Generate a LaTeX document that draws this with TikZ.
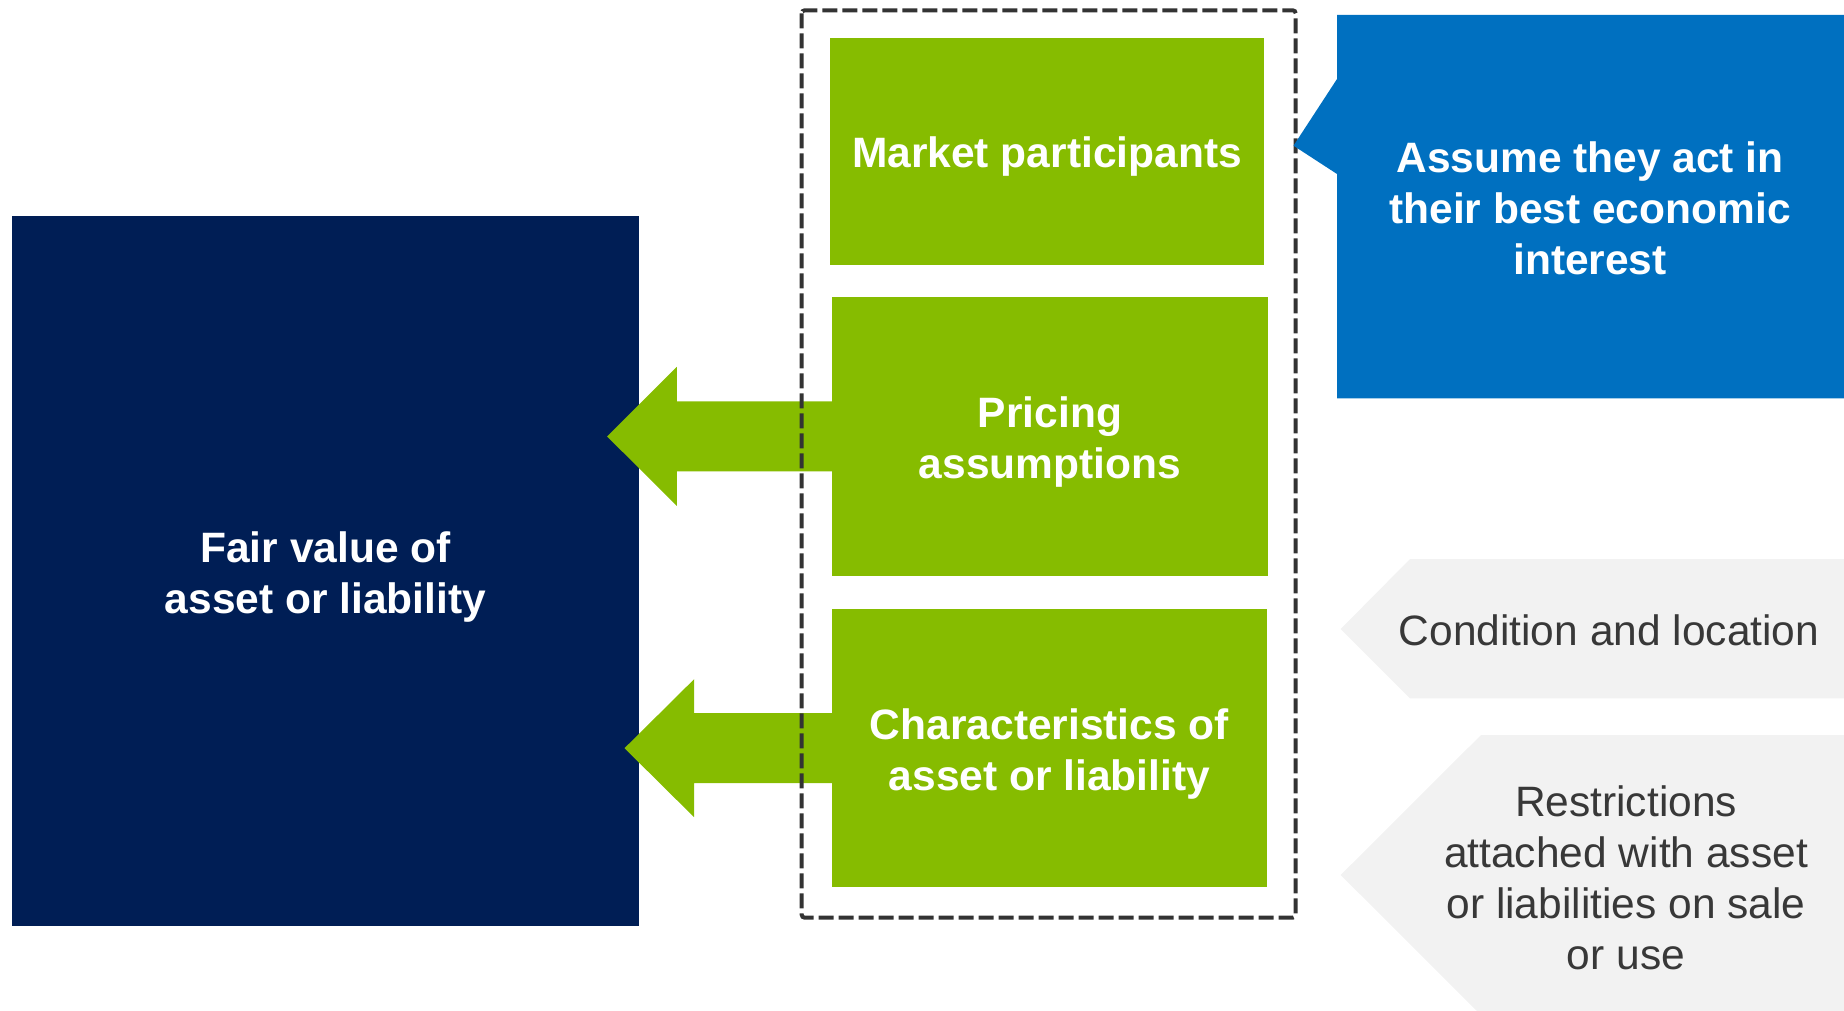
\documentclass[tikz,border=0pt]{standalone}
\usepackage{fontspec}
\setmainfont{Liberation Sans}
\usetikzlibrary{calc}
\definecolor{dgreen}{HTML}{86BC00}
\definecolor{navy}{HTML}{001E55}
\definecolor{dblue}{HTML}{0070C0}
\definecolor{lgray}{HTML}{F2F2F2}
\definecolor{tgray}{HTML}{383838}
\definecolor{dashc}{HTML}{333333}
\tikzset{
  gbox/.style={fill=dgreen, draw=none, inner sep=0pt},
  nbox/.style={fill=navy, draw=none, inner sep=0pt},
  wtext/.style={text=white, align=center, inner sep=0pt,
    font=\bfseries\fontsize{42.5}{51}\selectfont},
  gtext/.style={text=tgray, align=center, inner sep=0pt,
    font=\fontsize{42.5}{51}\selectfont},
  blockarrow/.style={fill=dgreen, draw=none},
  dashbox/.style={draw=dashc, line width=4pt, dash pattern=on 15pt off 5pt, rounded corners=3pt}
}
\begin{document}
\begin{tikzpicture}[x=1pt,y=-1pt]
\useasboundingbox (0,0) rectangle (1844,1011);
\clip (0,0) rectangle (1844,1011);
% left navy box
\node[nbox, minimum width=627pt, minimum height=710pt] (fv) at (325.5,571) {};
\node[wtext] (fvt) at ($(fv.center)+(0,6)$) {Fair value of\\asset or liability};
% green boxes
\node[gbox, minimum width=434pt, minimum height=227pt] (mp) at (1047,151.5) {};
\node[wtext] (mpt) at ($(mp.center)+(0,5)$) {Market participants};
\node[gbox, minimum width=436pt, minimum height=279pt] (pa) at (1050,436.4) {};
\node[wtext] (pat) at ($(pa.center)+(0,6)$) {Pricing\\assumptions};
\node[gbox, minimum width=435pt, minimum height=278pt] (ch) at (1049.5,748.2) {};
\node[wtext] (cht) at ($(ch.center)+(0,6)$) {Characteristics of\\asset or liability};
% block arrows towards the navy box
\fill[blockarrow] ($(pa.west)+(0.5,-35)$) -- ($(pa.west)+(-155,-35)$) -- ($(pa.west)+(-155,-69.5)$)
  -- ($(pa.west)+(-224.7,0)$) -- ($(pa.west)+(-155,69.5)$) -- ($(pa.west)+(-155,35)$)
  -- ($(pa.west)+(0.5,35)$) -- cycle;
\fill[blockarrow] ($(ch.west)+(0.5,-35)$) -- ($(ch.west)+(-137.7,-35)$) -- ($(ch.west)+(-137.7,-69)$)
  -- ($(ch.west)+(-207.3,0)$) -- ($(ch.west)+(-137.7,69)$) -- ($(ch.west)+(-137.7,35)$)
  -- ($(ch.west)+(0.5,35)$) -- cycle;
% dashed frame
\coordinate (dtl) at (801.7,10.3);
\coordinate (dbr) at (1295.7,917.7);
\draw[dashbox] (dtl) rectangle (dbr);
% blue callout
\coordinate (ctip) at (1293.5,145.7);
\fill[dblue] (ctip) -- (1337,79) -- (1337,15) -- (1850,15) -- (1850,398.3) -- (1337,398.3) -- (1337,174) -- cycle;
\node[wtext] (bt) at (1590,208) {Assume they act in\\their best economic\\interest};
% gray pointers
\fill[lgray] (1340.7,629) -- (1410,559) -- (1850,559) -- (1850,698.3) -- (1410,698.3) -- cycle;
\node[gtext] (cl) at (1609,630) {Condition and location};
\fill[lgray] (1340.7,875) -- (1481,735) -- (1850,735) -- (1850,1015) -- (1481,1015) -- cycle;
\node[gtext] (rs) at (1626,878) {Restrictions\\attached with asset\\or liabilities on sale\\or use};
\end{tikzpicture}
\end{document}
